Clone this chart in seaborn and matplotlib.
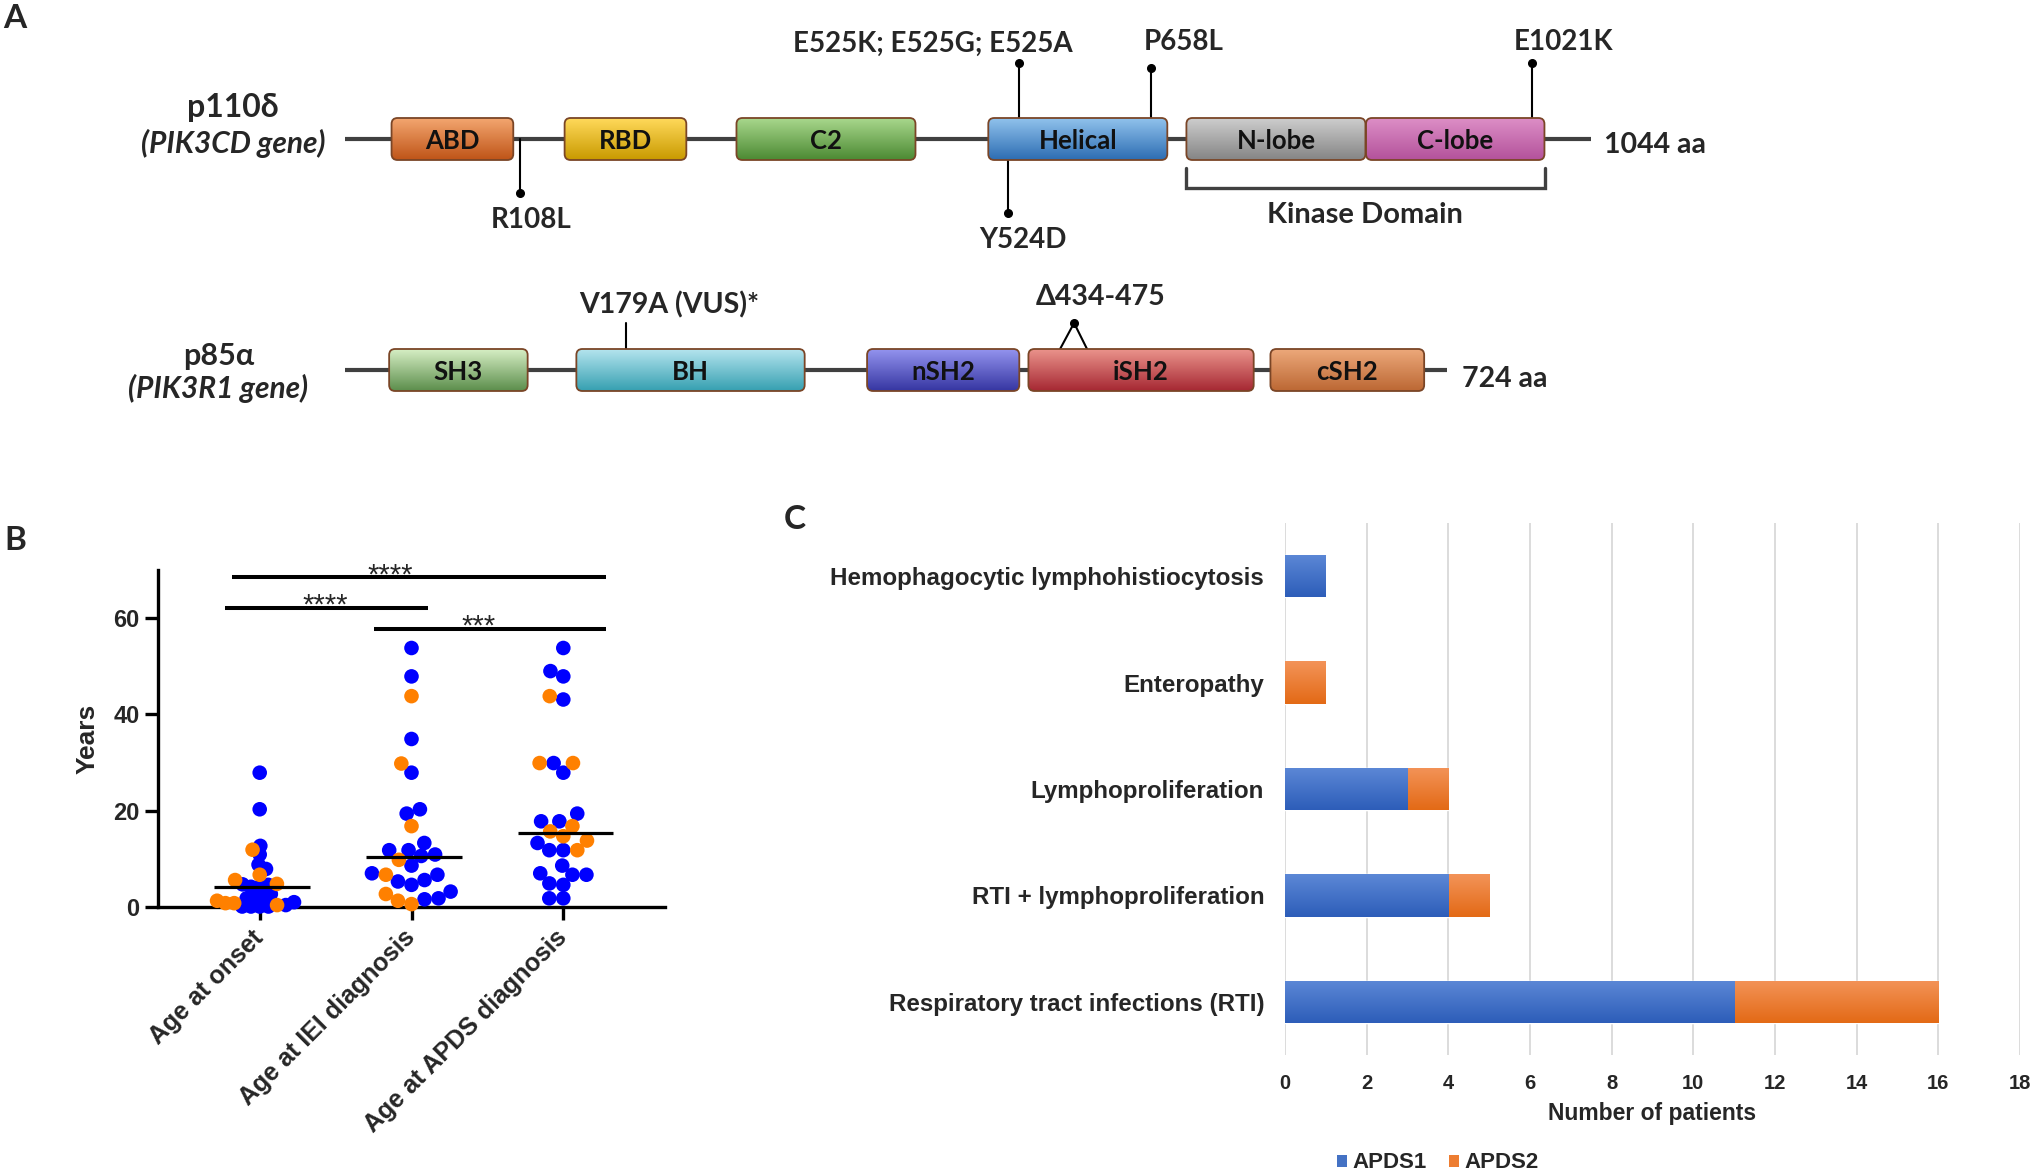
import numpy as np
import pandas as pd
import matplotlib
matplotlib.use("Agg")
import matplotlib.pyplot as plt
from matplotlib.patches import FancyBboxPatch, Patch
from matplotlib.colors import LinearSegmentedColormap
import seaborn as sns

# ======================= DATA =======================
# Panel A : protein schematics (positions on the drawn schematic, residues)
p110_length = 1044
p110_domains = ["ABD", "RBD", "C2", "Helical", "N-lobe", "C-lobe"]
p110_starts = [39, 184, 328, 539, 705, 855.5]
p110_ends = [141, 286, 478, 689, 855, 1005]
p110_mut_labels = ["R108L", "Y524D", "E525K; E525G; E525A", "P658L", "E1021K"]
p110_mut_pos = [146.6, 555.5, 564.7, 675.3, 994.6]
kinase_span = [704.6, 1005.4]

p85_length = 724
p85_domains = ["SH3", "BH", "nSH2", "iSH2", "cSH2"]
p85_starts = [29, 152, 343, 449, 608]
p85_ends = [120, 302, 443, 597, 709]
p85_mut_labels = ["V179A (VUS)*", "\u0394434-475"]
p85_mut_pos = [184.6, 479]
p85_del_span = [469.8, 487.5]

# Panel B : ages (years)
age_groups = ["Age at onset", "Age at IEI diagnosis", "Age at APDS diagnosis"]
onset_apds1 = [27.9, 20.3, 12.7, 10.9, 8.8, 7.9, 4.2, 4.6, 4.2, 4.7,
               1.8, 1.6, 2.7, 1.6, 0.4, 0.1, 0.1, 0.1, 0.1, 1.0]
onset_apds2 = [11.9, 6.7, 4.8, 5.6, 1.3, 0.4, 0.8, 0.8]
iei_apds1 = [53.8, 47.9, 34.9, 27.9, 19.4, 20.3, 13.3, 11.8, 10.6, 11.8,
             10.9, 8.6, 6.7, 7.0, 5.3, 4.6, 5.6, 3.2, 1.6, 1.8]
iei_apds2 = [43.8, 29.8, 16.8, 9.8, 6.7, 2.7, 1.3, 0.6]
apds_apds1 = [53.8, 49.0, 47.9, 43.1, 27.9, 29.9, 19.4, 17.8, 17.8, 13.3,
              11.8, 11.8, 8.6, 6.7, 7.0, 6.7, 4.6, 4.9, 1.8, 1.8]
apds_apds2 = [43.8, 29.9, 29.9, 16.8, 15.7, 14.7, 13.8, 11.8]
age_medians = [4.2, 10.3, 15.4]
sig_labels = ["****", "****", "***"]
sig_heights = [68.5, 62.2, 57.8]

# Panel C : clinical presentation
conditions = ["Hemophagocytic lymphohistiocytosis", "Enteropathy",
              "Lymphoproliferation", "RTI + lymphoproliferation",
              "Respiratory tract infections (RTI)"]
apds1_counts = [1, 0, 3, 4, 11]
apds2_counts = [0, 1, 1, 1, 5]
x_ticks_C = list(range(0, 19, 2))

# ======================= STYLE =======================
sns.set_theme(style="white")
ARIAL = ["Liberation Sans", "DejaVu Sans"]
CAL = ["Lato", "Noto Sans", "DejaVu Sans"]
plt.rcParams["font.family"] = ARIAL

W, H = 2032, 1173
fig = plt.figure(figsize=(W / 100, H / 100), dpi=100)
fig.patch.set_facecolor("white")


def rect(l, t, r, b):
    return [l / W, 1 - b / H, (r - l) / W, (b - t) / H]


def ftext(x, y, s, **kw):
    fig.text(x / W, 1 - y / H, s, **kw)


# panel letters
for letter, (lx, ly) in zip("ABC", [(3, 28), (4, 550), (784, 529)]):
    ftext(lx, ly, letter, family=CAL, weight="bold", size=24, va="baseline", ha="left")

# ======================= PANEL A =======================
p110_top = ["#F3A66F", "#FFD95A", "#A8D78C", "#90C2EC", "#CDCDCD", "#DD8EC6"]
p110_bot = ["#BF5418", "#C99A00", "#4C8A33", "#2D6DB3", "#858585", "#B3529B"]
p85_top = ["#D6EEC4", "#B4E4EE", "#9393EE", "#EA938B", "#ECA87A"]
p85_bot = ["#5C8E4C", "#36A0B1", "#3636A2", "#A62833", "#BC6834"]
LINE_C = "#404040"
MUT_FS = 20


def draw_domain(ax, s, e, top, bot, label, ppa):
    h = 21
    patch = FancyBboxPatch((s, -h), e - s, 2 * h,
                           boxstyle=f"round,pad=0,rounding_size={6 / ppa}",
                           mutation_aspect=ppa, fc="none", ec="#7A4526",
                           lw=1.3, zorder=4)
    ax.add_patch(patch)
    cmap = LinearSegmentedColormap.from_list("g", [bot, top])
    grad = np.linspace(0, 1, 64).reshape(-1, 1)
    im = ax.imshow(grad, cmap=cmap, extent=(s, e, -h, h), origin="lower",
                   aspect="auto", interpolation="bilinear", zorder=3)
    im.set_clip_path(patch)
    ax.text((s + e) / 2, 0, label, ha="center", va="center_baseline",
            family=CAL, weight="bold", size=18.5, color="#111111", zorder=5)


# --- p110 delta ---
ppa1 = (1591 - 345) / p110_length
ax1 = fig.add_axes(rect(345, 0, 1591, 278))
ax1.plot([0, p110_length], [0, 0], color=LINE_C, lw=3, solid_capstyle="butt", zorder=1)
for s, e, t, b, lab in zip(p110_starts, p110_ends, p110_top, p110_bot, p110_domains):
    draw_domain(ax1, s, e, t, b, lab, ppa1)

mut_base = [0, -21, 21, 21, 21]
mut_tip = [-54, -74, 76, 71, 76]
mut_lab_x = [155.8, 567.6, 492.7, 702.5, 1020.9]
mut_lab_y = [-89, -109, 87, 89, 89]
for pos, b0, tp, lx, ly, lab in zip(p110_mut_pos, mut_base, mut_tip, mut_lab_x, mut_lab_y, p110_mut_labels):
    ax1.plot([pos, pos], [b0, tp], color="black", lw=1.5, zorder=2)
    ax1.plot([pos], [tp], "o", color="black", ms=5.5, zorder=2)
    ax1.text(lx, ly, lab, ha="center", va="baseline", family=CAL, weight="bold", size=MUT_FS)

ks, ke = kinase_span
ax1.plot([ks, ks, ke, ke], [-29, -49, -49, -29], color=LINE_C, lw=2.4,
         solid_joinstyle="miter", zorder=2)
ax1.text((ks + ke) / 2, -84, "Kinase Domain", ha="center", va="baseline",
         family=CAL, weight="bold", size=21)
ax1.text(p110_length + 11, -14, f"{p110_length} aa", ha="left", va="baseline",
         family=CAL, weight="bold", size=20.5)
ax1.set_xlim(0, p110_length)
ax1.set_ylim(-139, 139)
ax1.axis("off")

ftext(233, 117, "p110\u03b4", family=CAL, weight="bold", size=23, ha="center", va="baseline")
ftext(233, 153, "(PIK3CD gene)", family=CAL, weight="bold", style="italic", size=21.5,
      ha="center", va="baseline")

# --- p85 alpha ---
ppa2 = (1447 - 345) / p85_length
ax2 = fig.add_axes(rect(345, 260, 1447, 480))
ax2.plot([0, p85_length], [0, 0], color=LINE_C, lw=3, solid_capstyle="butt", zorder=1)
for s, e, t, b, lab in zip(p85_starts, p85_ends, p85_top, p85_bot, p85_domains):
    draw_domain(ax2, s, e, t, b, lab, ppa2)

# V179A stem (no dot)
ax2.plot([p85_mut_pos[0]] * 2, [21, 47], color="black", lw=1.5, zorder=2)
ax2.text(212.9, 57, p85_mut_labels[0], ha="center", va="baseline", family=CAL,
         weight="bold", size=20.5)
# deletion
d0, d1 = p85_del_span
ax2.plot([d0, p85_mut_pos[1], d1], [21, 47, 21], color="black", lw=1.5, zorder=2)
ax2.plot([p85_mut_pos[1]], [47], "o", color="black", ms=5.5, zorder=2)
ax2.text(496.4, 65, p85_mut_labels[1], ha="center", va="baseline", family=CAL,
         weight="bold", size=20.5)
ax2.text(p85_length + 10, -17, f"{p85_length} aa", ha="left", va="baseline",
         family=CAL, weight="bold", size=20.5)
ax2.set_xlim(0, p85_length)
ax2.set_ylim(-110, 110)
ax2.axis("off")

ftext(219, 365, "p85\u03b1", family=CAL, weight="bold", size=22, ha="center", va="baseline")
ftext(218, 398, "(PIK3R1 gene)", family=CAL, weight="bold", style="italic", size=21.5,
      ha="center", va="baseline")

# ======================= PANEL B =======================
axB = fig.add_axes(rect(158, 570, 665, 907))
rows = []
for g, a1, a2 in zip(age_groups, [onset_apds1, iei_apds1, apds_apds1],
                     [onset_apds2, iei_apds2, apds_apds2]):
    rows += [(g, v, "APDS1") for v in a1]
    rows += [(g, v, "APDS2") for v in a2]
dfB = pd.DataFrame(rows, columns=["group", "years", "type"])
# packing size per group (the dense onset group is packed tighter, like Prism's overlap)
pack_sizes = [6.0, 9.6, 9.6]
for g, ps in zip(age_groups, pack_sizes):
    sns.swarmplot(data=dfB[dfB["group"] == g], x="group", y="years", hue="type",
                  order=age_groups, hue_order=["APDS1", "APDS2"],
                  palette={"APDS1": "#0000FF", "APDS2": "#FF8000"},
                  size=ps, linewidth=0, legend=False, ax=axB,
                  clip_on=False, zorder=3, warn_thresh=1)
for i, m in enumerate(age_medians):
    axB.plot([i - 0.3, i + 0.33], [m, m], color="black", lw=2.3, zorder=4,
             solid_capstyle="butt")

sig_x = [(-0.18, 2.28), (-0.23, 1.11), (0.75, 2.28)]
sig_tx = [0.86, 0.43, 1.44]
for (x0, x1), h, tx, lab in zip(sig_x, sig_heights, sig_tx, sig_labels):
    axB.plot([x0, x1], [h, h], color="black", lw=2.9, clip_on=False,
             solid_capstyle="butt")
    axB.text(tx, h - 1.3, lab, ha="center", va="baseline", size=21,
             family=ARIAL, clip_on=False)

axB.set_xlim(-0.67, 2.67)
axB.set_ylim(0, 70)
axB.set_yticks([0, 20, 40, 60])
sns.despine(ax=axB)
for sp in ["left", "bottom"]:
    axB.spines[sp].set_linewidth(2.4)
    axB.spines[sp].set_color("black")
axB.tick_params(axis="both", length=9.4, width=2.4, color="black",
                direction="out", labelsize=17, pad=4,
                left=True, bottom=True)
axB.set_xlabel("")
axB.set_ylabel("Years", size=19, weight="bold", labelpad=10)
for lab in axB.get_yticklabels():
    lab.set_fontweight("bold")
axB.set_xticks(range(len(age_groups)))
axB.set_xticklabels(age_groups, rotation=45, ha="right", va="center",
                    rotation_mode="anchor", weight="bold", size=18)
axB.tick_params(axis="x", pad=10)

# ======================= PANEL C =======================
axC = fig.add_axes(rect(1285, 523, 2020, 1055))
dfC = pd.DataFrame({"condition": conditions, "APDS1": apds1_counts,
                    "APDS2": apds2_counts})
dfC["total"] = dfC["APDS1"] + dfC["APDS2"]
BLUE, ORANGE = "#4472C4", "#ED7D31"
sns.barplot(data=dfC, y="condition", x="total", order=conditions, color=ORANGE,
            orient="h", width=0.4, saturation=1, ax=axC, zorder=2)
sns.barplot(data=dfC, y="condition", x="APDS1", order=conditions, color=BLUE,
            orient="h", width=0.4, saturation=1, ax=axC, zorder=2)

for p in list(axC.patches):
    bb = p.get_bbox()
    if bb.width <= 0:
        continue
    fc = matplotlib.colors.to_hex(p.get_facecolor())
    if fc.lower() == BLUE.lower():
        top, bot = "#5C88D6", "#2D5DB9"
    else:
        top, bot = "#F39358", "#E36A16"
    cmap = LinearSegmentedColormap.from_list("c", [top, bot])
    grad = np.linspace(0, 1, 64).reshape(-1, 1)
    im = axC.imshow(grad, cmap=cmap, extent=(bb.x0, bb.x1, bb.y0, bb.y1),
                    origin="lower", aspect="auto", interpolation="bilinear", zorder=2.5)
    im.set_clip_path(p)

axC.set_xlim(0, 18)
axC.set_ylim(4.5, -0.5)
axC.set_xticks(x_ticks_C)
axC.grid(axis="x", color="#D9D9D9", lw=1.3)
axC.grid(axis="y", visible=False)
axC.set_axisbelow(True)
for sp in axC.spines.values():
    sp.set_visible(False)
axC.tick_params(axis="x", length=0, pad=14, labelsize=14.5)
axC.tick_params(axis="y", length=0, pad=15, labelsize=17.4)
for lab in axC.get_xticklabels():
    lab.set_fontweight("bold")
for lab in axC.get_yticklabels():
    lab.set_fontweight("bold")
axC.set_ylabel("")
axC.set_xlabel("Number of patients", size=16.5, weight="bold", labelpad=6)

handles = [Patch(facecolor=BLUE, edgecolor="none"), Patch(facecolor=ORANGE, edgecolor="none")]
fig.legend(handles, ["APDS1", "APDS2"], loc="center",
           bbox_to_anchor=(1438 / W, 1 - 1163 / H), ncol=2, frameon=False,
           prop=dict(family=ARIAL, weight="bold", size=16),
           handlelength=0.45, handleheight=0.45, handletextpad=0.25,
           columnspacing=1.0, borderpad=0)

# Freeze the swarm layout, then draw every dot at full size (Prism-like overlap)
fig.canvas.draw()
for coll in axB.collections:
    if "draw" in coll.__dict__:
        del coll.draw
        coll.set_sizes([10.5 ** 2])

fig.savefig("out.png", dpi=100, facecolor="white")
